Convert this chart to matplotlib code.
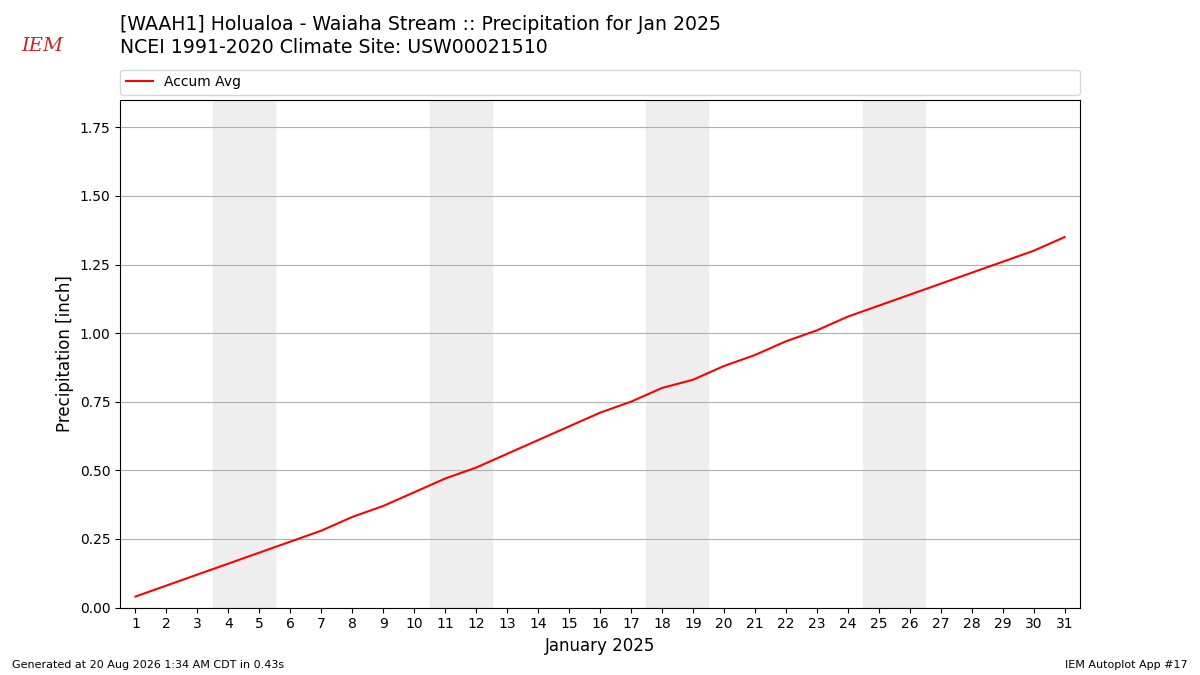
import matplotlib
matplotlib.use("Agg")
import matplotlib.pyplot as plt

days = list(range(1, 32))
accum_avg = [0.04, 0.08, 0.12, 0.16, 0.20, 0.24, 0.28, 0.33, 0.37, 0.42,
             0.47, 0.51, 0.56, 0.61, 0.66, 0.71, 0.75, 0.80, 0.83, 0.88,
             0.92, 0.97, 1.01, 1.06, 1.10, 1.14, 1.18, 1.22, 1.26, 1.30,
             1.35]
weekend_starts = [4, 11, 18, 25]

fig = plt.figure(figsize=(12, 6.75), dpi=100)
ax = fig.add_axes([0.1, 0.1, 0.8, 0.752])

for d in weekend_starts:
    ax.axvspan(d - 0.5, d + 1.5, color="#eeeeee", zorder=0)

ax.plot(days, accum_avg, color="red", lw=1.5, label="Accum Avg", zorder=3)
ax.set_xlim(0.5, 31.5)
ax.set_ylim(0, 1.85)
ax.set_xticks(days)
ax.set_yticks([0, 0.25, 0.5, 0.75, 1.0, 1.25, 1.5, 1.75])
ax.grid(axis="y", color="#b0b0b0", lw=0.8)
ax.set_axisbelow(True)
ax.set_xlabel("January 2025", fontsize=12)
ax.set_ylabel("Precipitation [inch]", fontsize=12)
ax.legend(loc="lower left", bbox_to_anchor=(0, 1.01, 1, 0.06), mode="expand",
          ncol=1, fontsize=10, borderaxespad=0)

fig.text(0.1, 0.95, "[WAAH1] Holualoa - Waiaha Stream :: Precipitation for Jan 2025",
         fontsize=13.6, va="bottom")
fig.text(0.1, 0.915, "NCEI 1991-2020 Climate Site: USW00021510",
         fontsize=13.6, va="bottom")
fig.text(0.01, 0.01, "Generated at 20 Aug 2026 1:34 AM CDT in 0.43s", fontsize=8)
fig.text(0.99, 0.01, "IEM Autoplot App #17", fontsize=8, ha="right")

# logo stand-in
fig.text(0.018, 0.925, "IEM", fontsize=14, color="#cc2222", style="italic",
         family="DejaVu Serif")

fig.savefig("out.png", dpi=100)
